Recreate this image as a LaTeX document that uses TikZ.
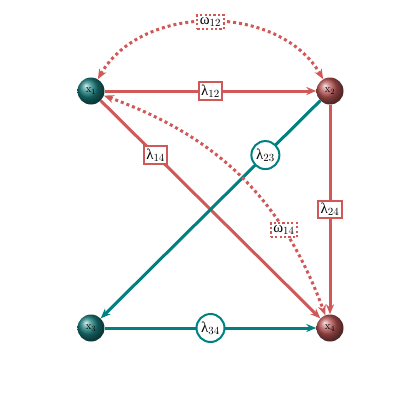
\documentclass[tikz,border=0pt]{standalone}
\usepackage{fontspec}
\newfontfamily\grk{Liberation Serif}
\usetikzlibrary{arrows.meta,shapes.geometric}
\definecolor{edred}{RGB}{208,88,88}
\definecolor{edteal}{RGB}{0,128,128}
\definecolor{ballteal}{RGB}{25,125,125}
\definecolor{ballred}{RGB}{185,85,85}
\tikzset{
  ballnode/.style={circle,minimum size=27bp,inner sep=0pt,shading=ball,font=\fontsize{11}{12}\selectfont},
  tealball/.style={ballnode,ball color=ballteal},
  redball/.style={ballnode,ball color=ballred},
  redge/.style={draw=edred,line width=3bp,-{Stealth[length=10bp,width=8bp]}},
  tedge/.style={draw=edteal,line width=3bp,-{Stealth[length=10bp,width=8bp]}},
  dedge/.style={draw=edred,line width=3bp,dash pattern=on 3bp off 3bp,{Stealth[length=10bp,width=8bp]}-{Stealth[length=10bp,width=8bp]}},
  rlab/.style={draw=edred,fill=white,line width=2bp,inner sep=2.5bp,font=\fontsize{15}{17}\selectfont},
  tlab/.style={circle,draw=edteal,fill=white,line width=2bp,inner sep=0.5bp,minimum size=28bp,font=\fontsize{15}{17}\selectfont},
  dlab/.style={draw=edred,fill=white,line width=2bp,dash pattern=on 2.2bp off 2.2bp,inner sep=2.5bp,font=\fontsize{15}{17}\selectfont},
}
\newcommand{\lam}[1]{{\grk λ}$_{#1}$}
\newcommand{\om}[1]{{\grk ω}$_{#1}$}
\begin{document}
\begin{tikzpicture}[x=1bp,y=-1bp]
\useasboundingbox (0,0) rectangle (420,420);
\node[tealball] (x1) at (91,91) {x$_1$};
\node[redball] (x2) at (330,91) {x$_2$};
\node[tealball] (x3) at (91,328) {x$_3$};
\node[redball] (x4) at (330,328) {x$_4$};
\draw[redge] (x1) -- node[rlab] {\lam{12}} (x2);
\draw[redge] (x1) -- node[rlab,pos=0.25] {\lam{14}} (x4);
\draw[tedge] (x2) -- node[tlab,pos=0.25] {\lam{23}} (x3);
\draw[redge] (x2) -- node[rlab] {\lam{24}} (x4);
\draw[tedge] (x3) -- node[tlab] {\lam{34}} (x4);
\draw[dedge] (x1) to[bend left=60] node[dlab] {\om{12}} (x2);
\draw[dedge] (x1) to[bend left=25] node[dlab,pos=0.72] {\om{14}} (x4);
\end{tikzpicture}
\end{document}
